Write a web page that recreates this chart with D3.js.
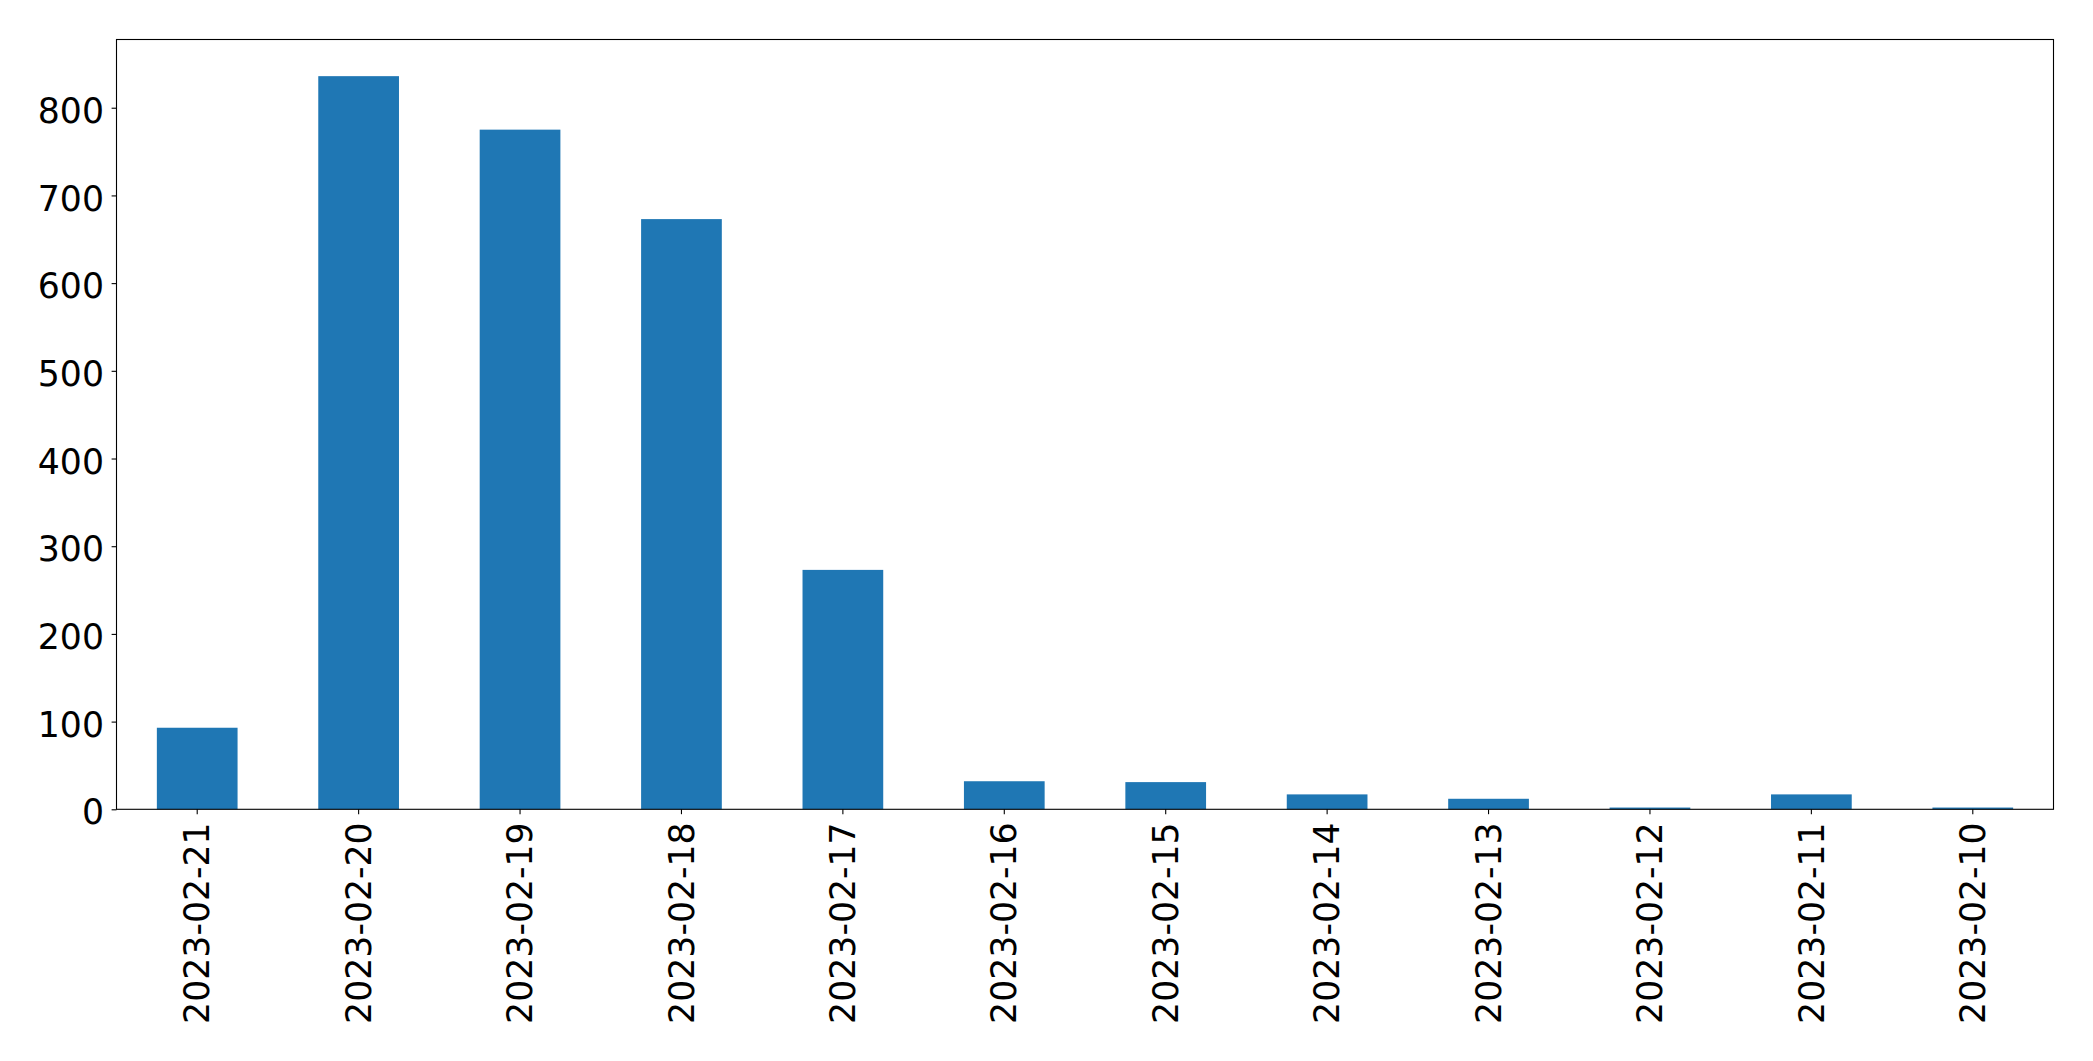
<!DOCTYPE html>
<html>
<head>
<meta charset="utf-8">
<script src="https://cdn.jsdelivr.net/npm/d3@7"></script>
<style>
  html, body { margin: 0; padding: 0; background: #fff; }
  svg { display: block; }
  text { font-family: "DejaVu Sans", sans-serif; fill: #000; }
</style>
</head>
<body>
<svg id="chart" width="2093" height="1061"></svg>
<script>
const categories = ["2023-02-21","2023-02-20","2023-02-19","2023-02-18","2023-02-17","2023-02-16","2023-02-15","2023-02-14","2023-02-13","2023-02-12","2023-02-11","2023-02-10"];
const values = [93, 836, 775, 673, 273, 32, 31, 17, 12, 2, 17, 2];
const yTicks = [0, 100, 200, 300, 400, 500, 600, 700, 800];

const W = 2093, H = 1061;
const m = { left: 116.5, right: 2053.5, top: 39.5, bottom: 809.3 };
const svg = d3.select("#chart");

const x = d3.scaleBand().domain(categories).range([m.left, m.right]).paddingInner(0.5).paddingOuter(0.25);
const y = d3.scaleLinear().domain([0, d3.max(values) * 1.05]).range([m.bottom, m.top]);

svg.append("g").selectAll("rect").data(values).join("rect")
  .attr("x", (d, i) => x(categories[i]))
  .attr("width", x.bandwidth())
  .attr("y", d => y(d))
  .attr("height", d => y(0) - y(d))
  .attr("fill", "#1f77b4");

const fs = "34.7px";

// y axis
const yAxis = svg.append("g").attr("transform", `translate(${m.left},0)`)
  .call(d3.axisLeft(y).tickValues(yTicks).tickSize(4.9).tickPadding(0).tickFormat(d3.format("d")));
yAxis.select(".domain").remove();
yAxis.selectAll("line").attr("stroke", "#000").attr("stroke-width", 1.1);
yAxis.selectAll("text").attr("x", -12.5).attr("dy", "0.42em").style("font-size", fs).attr("fill", "#000");

// x axis
const xAxis = svg.append("g").attr("transform", `translate(0,${m.bottom})`)
  .call(d3.axisBottom(x).tickSize(4.9).tickPadding(0));
xAxis.select(".domain").remove();
xAxis.selectAll("line").attr("stroke", "#000").attr("stroke-width", 1.1);
xAxis.selectAll("text")
  .attr("y", 0).attr("dy", "0.35em")
  .attr("transform", "translate(0,13) rotate(-90)")
  .attr("text-anchor", "end")
  .style("font-size", fs).attr("fill", "#000");

// frame
svg.append("rect")
  .attr("x", m.left).attr("y", m.top)
  .attr("width", m.right - m.left).attr("height", m.bottom - m.top)
  .attr("fill", "none").attr("stroke", "#000").attr("stroke-width", 1.1);
</script>
</body>
</html>
